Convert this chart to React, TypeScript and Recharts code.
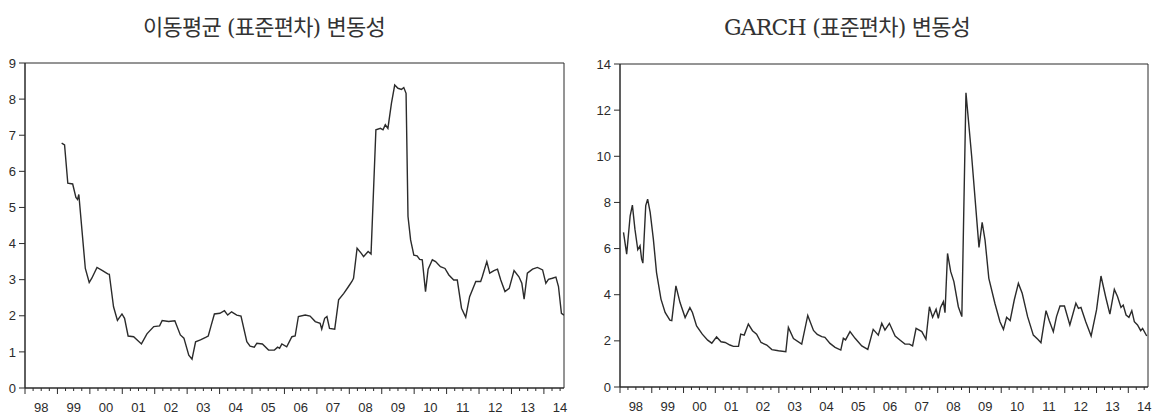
import { LineChart, Line, XAxis, YAxis, ReferenceArea } from 'recharts'

// 12개월 이동 표준편차 (left panel)
const maTimes = [
  1999.13, 1999.22, 1999.32, 1999.47, 1999.57, 1999.62, 1999.66, 1999.86, 1999.98, 2000.06,
  2000.22, 2000.39, 2000.55, 2000.6, 2000.73, 2000.85, 2000.99, 2001.07, 2001.18, 2001.35,
  2001.59, 2001.76, 2001.97, 2002.15, 2002.23, 2002.43, 2002.62, 2002.79, 2002.9, 2003.05,
  2003.15, 2003.26, 2003.41, 2003.57, 2003.65, 2003.73, 2003.84, 2004.01, 2004.15, 2004.25,
  2004.37, 2004.53, 2004.66, 2004.84, 2004.94, 2005.07, 2005.15, 2005.32, 2005.51, 2005.69,
  2005.79, 2005.85, 2005.92, 2006.07, 2006.23, 2006.33, 2006.43, 2006.64, 2006.79, 2006.95,
  2007.1, 2007.15, 2007.24, 2007.31, 2007.39, 2007.55, 2007.67, 2007.83, 2007.96, 2008.08,
  2008.13, 2008.24, 2008.37, 2008.44, 2008.58, 2008.67, 2008.82, 2008.96, 2009.04, 2009.11,
  2009.19, 2009.3, 2009.4, 2009.5, 2009.61, 2009.68, 2009.75, 2009.81, 2009.89, 2009.99,
  2010.09, 2010.17, 2010.25, 2010.35, 2010.43, 2010.56, 2010.66, 2010.81, 2010.95, 2011.07,
  2011.22, 2011.33, 2011.46, 2011.59, 2011.71, 2011.9, 2012.05, 2012.1, 2012.24, 2012.33,
  2012.46, 2012.57, 2012.67, 2012.8, 2012.93, 2013.08, 2013.23, 2013.32, 2013.39, 2013.49,
  2013.65, 2013.8, 2013.96, 2014.06, 2014.14, 2014.26, 2014.37, 2014.45, 2014.54, 2014.62,
]
const maValues = [
  6.78, 6.73, 5.67, 5.65, 5.28, 5.22, 5.36, 3.31, 2.92, 3.04,
  3.34, 3.25, 3.16, 3.15, 2.25, 1.87, 2.05, 1.93, 1.44, 1.42,
  1.22, 1.5, 1.7, 1.72, 1.87, 1.84, 1.86, 1.47, 1.38, 0.91,
  0.8, 1.28, 1.33, 1.4, 1.44, 1.7, 2.05, 2.07, 2.14, 2.02,
  2.11, 2.02, 1.99, 1.28, 1.16, 1.13, 1.24, 1.22, 1.05, 1.05,
  1.13, 1.1, 1.22, 1.14, 1.42, 1.44, 1.98, 2.02, 1.99, 1.84,
  1.79, 1.63, 1.93, 1.98, 1.65, 1.63, 2.44, 2.62, 2.79, 2.95,
  3.04, 3.87, 3.73, 3.64, 3.78, 3.71, 7.15, 7.19, 7.15, 7.29,
  7.19, 7.89, 8.39, 8.3, 8.27, 8.32, 8.16, 4.75, 4.1, 3.68,
  3.66, 3.56, 3.55, 2.67, 3.29, 3.55, 3.5, 3.36, 3.31, 3.13,
  2.99, 2.99, 2.21, 1.96, 2.53, 2.95, 2.95, 3.08, 3.5, 3.18,
  3.25, 3.29, 2.99, 2.67, 2.76, 3.25, 3.08, 2.9, 2.46, 3.18,
  3.29, 3.34, 3.27, 2.9, 3.01, 3.04, 3.07, 2.81, 2.07, 2.02,
]

// GARCH 조건부 표준편차 (right panel)
const garchTimes = [
  1998.11, 1998.21, 1998.32, 1998.39, 1998.47, 1998.56, 1998.63, 1998.68, 1998.72, 1998.81,
  1998.87, 1998.95, 1999.05, 1999.15, 1999.29, 1999.42, 1999.57, 1999.63, 1999.76, 1999.89,
  2000.05, 2000.2, 2000.28, 2000.41, 2000.59, 2000.76, 2000.89, 2001.04, 2001.18, 2001.31,
  2001.46, 2001.57, 2001.73, 2001.8, 2001.91, 2002.04, 2002.17, 2002.3, 2002.44, 2002.62,
  2002.78, 2002.99, 2003.22, 2003.3, 2003.46, 2003.72, 2003.91, 2004.09, 2004.21, 2004.35,
  2004.45, 2004.61, 2004.77, 2004.95, 2005.03, 2005.1, 2005.24, 2005.4, 2005.61, 2005.8,
  2005.97, 2006.13, 2006.24, 2006.34, 2006.48, 2006.66, 2006.81, 2006.97, 2007.11, 2007.21,
  2007.32, 2007.5, 2007.63, 2007.74, 2007.84, 2007.95, 2008.02, 2008.09, 2008.18, 2008.23,
  2008.31, 2008.41, 2008.51, 2008.65, 2008.76, 2008.89, 2009.07, 2009.3, 2009.4, 2009.49,
  2009.61, 2009.8, 2009.96, 2010.07, 2010.17, 2010.28, 2010.41, 2010.54, 2010.66, 2010.83,
  2011.01, 2011.15, 2011.25, 2011.41, 2011.51, 2011.64, 2011.74, 2011.85, 2011.99, 2012.16,
  2012.35, 2012.43, 2012.51, 2012.66, 2012.83, 2013.0, 2013.14, 2013.29, 2013.42, 2013.56,
  2013.66, 2013.77, 2013.84, 2013.93, 2014.02, 2014.11, 2014.19, 2014.29, 2014.39, 2014.45,
  2014.58,
]
const garchValues = [
  6.7, 5.76, 7.42, 7.88, 6.84, 5.95, 6.12, 5.55, 5.37, 7.86,
  8.14, 7.57, 6.41, 4.96, 3.81, 3.23, 2.9, 2.88, 4.38, 3.66,
  3.01, 3.44, 3.23, 2.65, 2.29, 2.03, 1.9, 2.17, 1.96, 1.93,
  1.82, 1.76, 1.76, 2.29, 2.25, 2.73, 2.44, 2.29, 1.93, 1.82,
  1.62, 1.57, 1.53, 2.58, 2.1, 1.86, 3.1, 2.45, 2.28, 2.18,
  2.15, 1.89, 1.72, 1.6, 2.11, 2.04, 2.4, 2.11, 1.78, 1.63,
  2.5, 2.25, 2.76, 2.47, 2.76, 2.21, 2.04, 1.86, 1.86, 1.78,
  2.54, 2.4, 2.07, 3.48, 3.02, 3.37, 2.98, 3.45, 3.7, 3.22,
  5.79, 5.0, 4.57, 3.48, 3.05, 12.75, 9.99, 6.05, 7.14, 6.37,
  4.71, 3.63, 2.83, 2.5, 3.02, 2.88, 3.77, 4.49, 4.06, 3.05,
  2.25, 2.07, 1.92, 3.31, 2.88, 2.4, 3.05, 3.51, 3.51, 2.69,
  3.63, 3.41, 3.45, 2.83, 2.21, 3.34, 4.81, 3.89, 3.16, 4.23,
  3.92, 3.45, 3.55, 3.12, 3.02, 3.31, 2.83, 2.69, 2.44, 2.54,
  2.21,
]

const yearLabels = ['98', '99', '00', '01', '02', '03', '04', '05', '06', '07', '08', '09', '10', '11', '12', '13', '14']
const maTicks = [0, 1, 2, 3, 4, 5, 6, 7, 8, 9]
const garchTicks = [0, 2, 4, 6, 8, 10, 12, 14]

const START = 1998
const END = 2014.62
const INK = '#2b2b2b'
const FONT = '"Liberation Sans", Arial, sans-serif'

// quarterly tick marks, year label centred inside each year
const quarterTicks = Array.from({ length: yearLabels.length * 4 - 1 }, (_, i) => START + i * 0.25)

function YearTick(props: any) {
  const { x, y, payload } = props
  const q = Math.round((payload.value - START) * 4)
  const isYear = q % 4 === 0
  const isMid = q % 4 === 2
  return (
    <g>
      <line x1={x} x2={x} y1={y} y2={y + (isYear ? 6 : 3)} stroke={INK} strokeWidth={1} />
      {isMid && (
        <text x={x} y={y + 24} textAnchor="middle" fill={INK} fontSize={13} fontFamily={FONT}>
          {yearLabels[Math.floor(q / 4)]}
        </text>
      )}
    </g>
  )
}

interface VolChartProps {
  data: { t: number; v: number }[]
  yMax: number
  yTicks: number[]
  yWidth: number
  width: number
  right: number
  top: number
  bottom: number
}

function VolChart({ data, yMax, yTicks, yWidth, width, right, top, bottom }: VolChartProps) {
  return (
    <LineChart width={width} height={418} data={data} margin={{ top, right, bottom, left: 0 }}>
      <XAxis
        type="number"
        dataKey="t"
        domain={[START, END]}
        allowDataOverflow
        ticks={quarterTicks}
        interval={0}
        tick={<YearTick />}
        tickLine={false}
        tickSize={0}
        tickMargin={0}
        height={20}
        axisLine={{ stroke: INK }}
      />
      <YAxis
        type="number"
        domain={[0, yMax]}
        ticks={yTicks}
        interval={0}
        width={yWidth}
        tickSize={6}
        tickMargin={3}
        tickLine={{ stroke: INK }}
        axisLine={{ stroke: INK }}
        tick={{ fill: INK, fontSize: 13, fontFamily: FONT }}
      />
      <ReferenceArea x1={START} x2={END} y1={0} y2={yMax} fill="none" stroke={INK} strokeWidth={1} />
      <Line
        type="linear"
        dataKey="v"
        stroke={INK}
        strokeWidth={1.4}
        dot={false}
        isAnimationActive={false}
      />
    </LineChart>
  )
}

const titleStyle = {
  position: 'absolute' as const,
  top: 9,
  width: 320,
  textAlign: 'center' as const,
  fontFamily: '"DejaVu Serif", "Noto Sans CJK KR", serif',
  fontSize: 22,
  color: '#333',
  letterSpacing: -0.8,
}

export default function App() {
  const maData = maTimes.map((t, i) => ({ t, v: maValues[i] }))
  const garchData = garchTimes.map((t, i) => ({ t, v: garchValues[i] }))
  return (
    <div style={{ position: 'absolute', left: 0, top: 0, width: 1162, height: 418, background: '#fff' }}>
      <div style={{ ...titleStyle, left: 264 - 160 }}>이동평균 (표준편차) 변동성</div>
      <div style={{ ...titleStyle, left: 847 - 160 }}>GARCH (표준편차) 변동성</div>
      <div style={{ position: 'absolute', left: 0, top: 0 }}>
        <VolChart data={maData} yMax={9} yTicks={maTicks} yWidth={25} width={580} right={16} top={63} bottom={10} />
      </div>
      <div style={{ position: 'absolute', left: 580, top: 0 }}>
        <VolChart data={garchData} yMax={14} yTicks={garchTicks} yWidth={40} width={582} right={14} top={64} bottom={11} />
      </div>
    </div>
  )
}
